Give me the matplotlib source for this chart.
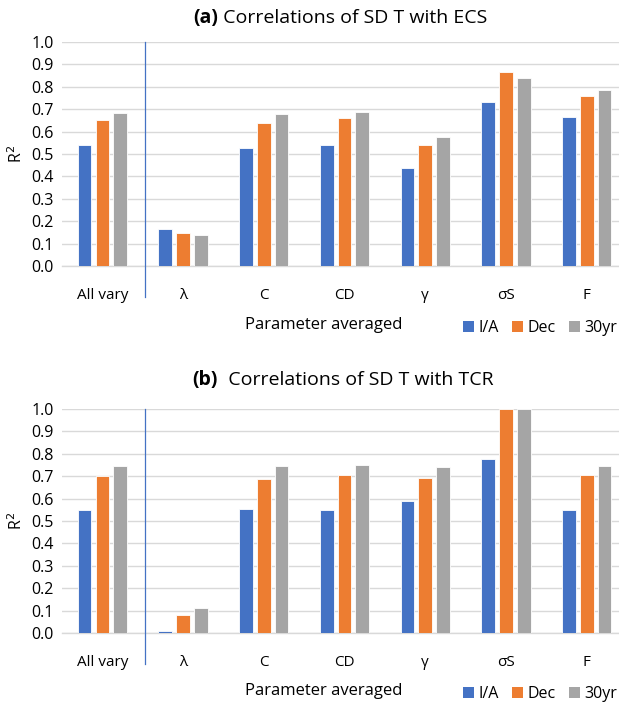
import numpy as np
import matplotlib
matplotlib.use('Agg')
from matplotlib import pyplot as plt
from matplotlib.patches import Patch

plt.rcParams['font.family'] = ['Open Sans', 'DejaVu Sans']

# === Data ===
categories = ['All vary', 'λ', 'C', 'CD', 'γ', 'σS', 'F']
series = ['I/A', 'Dec', '30yr']
colors = ['#4472C4', '#ED7D31', '#A5A5A5']

ecs_ia = [0.54, 0.165, 0.528, 0.540, 0.436, 0.733, 0.666]
ecs_dec = [0.652, 0.146, 0.640, 0.660, 0.540, 0.864, 0.758]
ecs_30yr = [0.685, 0.139, 0.679, 0.687, 0.575, 0.839, 0.785]

tcr_ia = [0.548, 0.01, 0.553, 0.548, 0.588, 0.779, 0.548]
tcr_dec = [0.700, 0.079, 0.687, 0.705, 0.692, 1.0, 0.705]
tcr_30yr = [0.746, 0.112, 0.745, 0.752, 0.739, 1.0, 0.745]

yticks = np.round(np.arange(0, 1.01, 0.1), 1)

W, H = 619, 704
fig = plt.figure(figsize=(W / 100, H / 100), dpi=100)


def panel(bottom_px, data, tag, title, title_y, label_y):
    ax = fig.add_axes([62 / W, 1 - bottom_px / H, 557 / W, 224 / H])
    x = np.arange(len(categories))
    step, width = 0.22, 0.17
    for i, (vals, c) in enumerate(zip(data, colors)):
        ax.bar(x + (i - 1) * step, vals, width, color=c, edgecolor='white',
               linewidth=0.6, zorder=3)
    ax.set_xlim(-0.5, 6.4)
    ax.set_ylim(0, 1.0)
    ax.set_yticks(yticks)
    ax.set_yticklabels(['%.1f' % v for v in yticks], fontsize=11.5)
    ax.set_xticks(x)
    ax.set_xticklabels(categories, fontsize=11)
    ax.tick_params(axis='both', length=0)
    ax.tick_params(axis='x', pad=16)
    ax.tick_params(axis='y', pad=6)
    ax.grid(axis='y', color='#D9D9D9', linewidth=1, zorder=0)
    for s in ['top', 'right', 'left']:
        ax.spines[s].set_visible(False)
    ax.spines['bottom'].set_color('#D9D9D9')
    ax.spines['bottom'].set_linewidth(1)
    ax.set_ylabel('R$^2$', fontsize=11.5, labelpad=4)
    # divider between "All vary" and the rest
    ax.plot([0.53, 0.53], [-0.14, 1.0], color='#4472C4', linewidth=0.9,
            clip_on=False, zorder=4)

    tx = 218 / W
    ty = 1 - title_y / H
    fig.text(tx, ty, tag, fontsize=14, weight='bold', ha='right', va='center')
    fig.text(tx, ty, title, fontsize=14, ha='left', va='center')

    ly = 1 - label_y / H
    fig.text(324 / W, ly, 'Parameter averaged', fontsize=12, ha='center', va='center')
    handles = [Patch(facecolor=c, label=s) for s, c in zip(series, colors)]
    fig.legend(handles=handles, loc='center', bbox_to_anchor=(540 / W, ly - 0.004),
               ncol=3, frameon=False, fontsize=11.5, handlelength=0.7,
               handleheight=0.7, handletextpad=0.3, columnspacing=0.8)
    return ax


panel(266, [ecs_ia, ecs_dec, ecs_30yr], '(a)', ' Correlations of SD T with ECS', 18, 325)
panel(633, [tcr_ia, tcr_dec, tcr_30yr], '(b)', '  Correlations of SD T with TCR', 380, 691)

fig.savefig('out.png', dpi=100)
